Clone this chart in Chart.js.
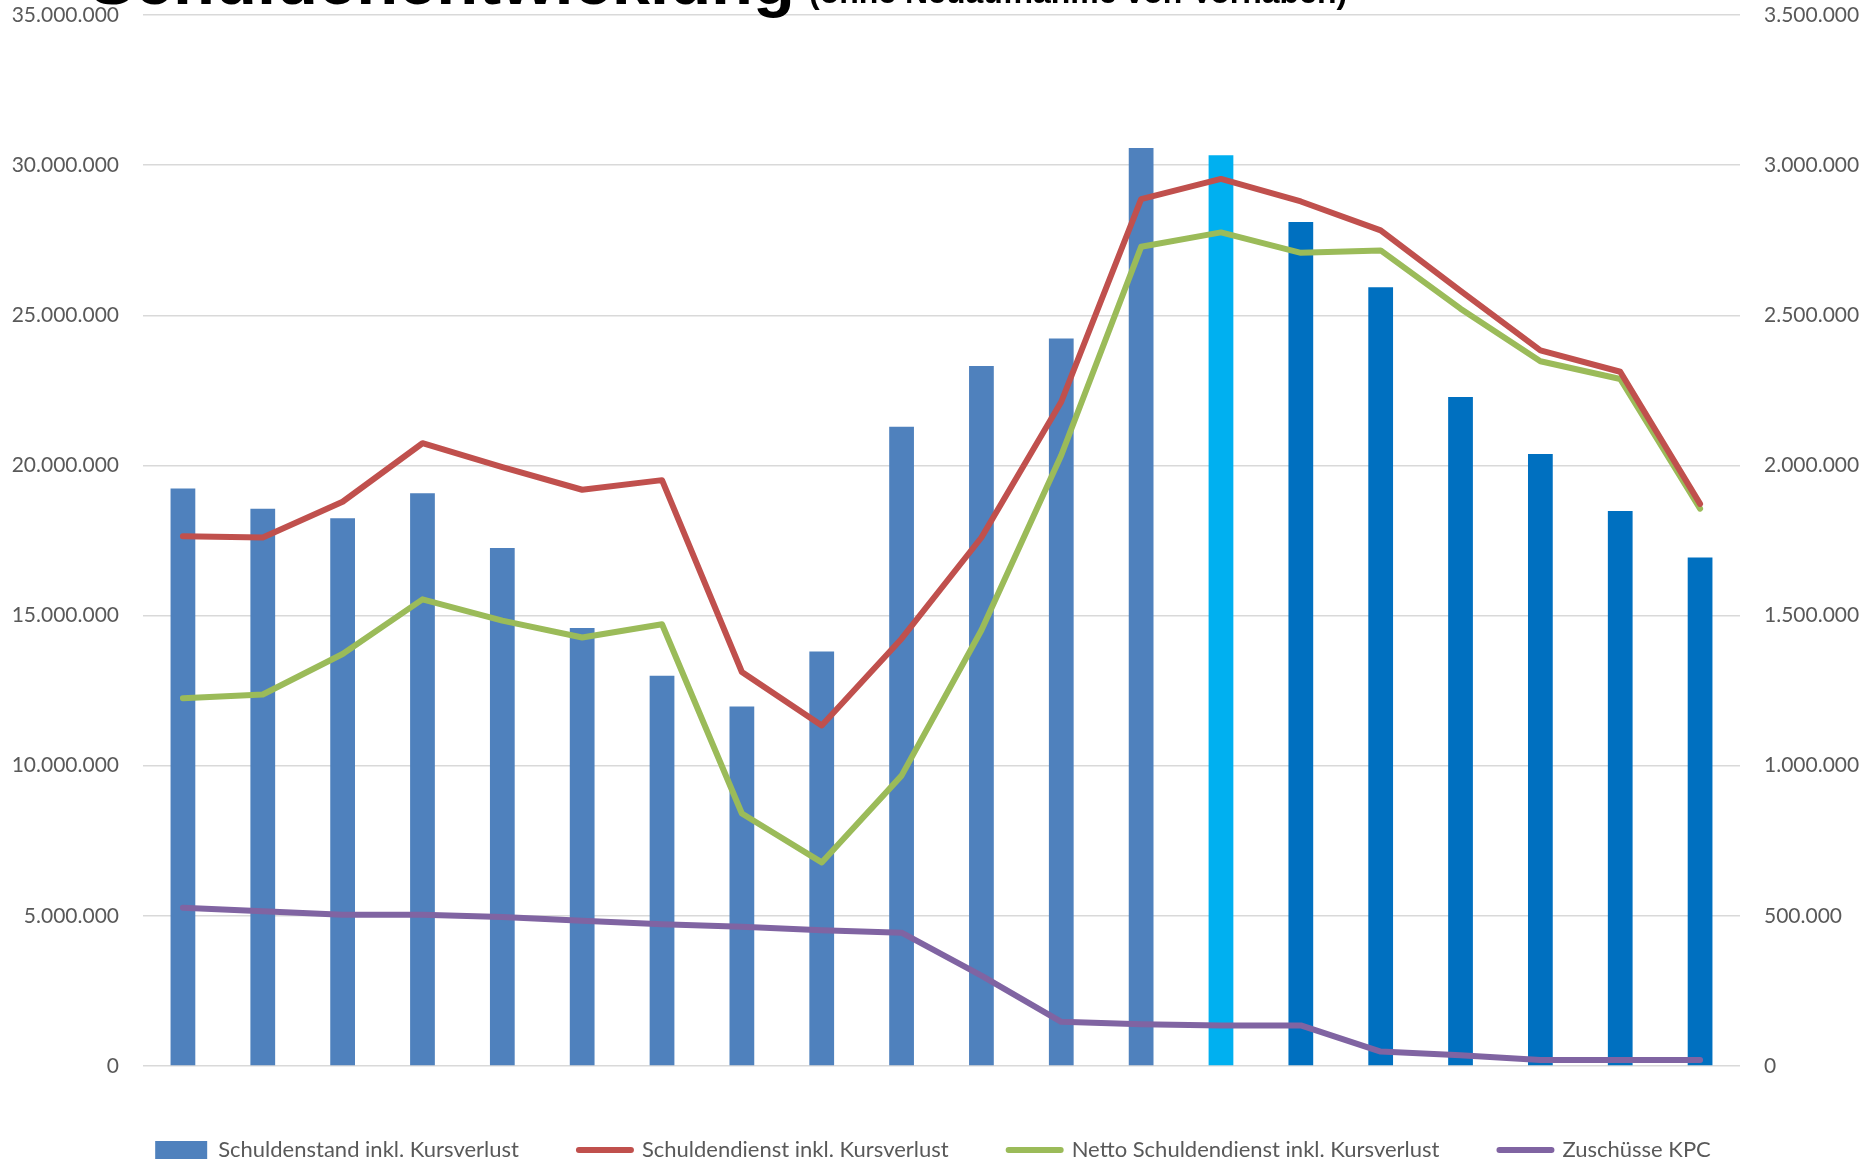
<!DOCTYPE html>
<html lang="de">
<head>
<meta charset="utf-8">
<title>Schuldenentwicklung</title>
<script src="https://cdn.jsdelivr.net/npm/chart.js@4.4.1/dist/chart.umd.min.js"></script>
<style>
  html, body { margin: 0; padding: 0; background: #fff; overflow: hidden; }
  #wrap { position: relative; width: 1866px; height: 1171px; }
  .title {
    position: absolute;
    font-family: 'Liberation Sans', Arial, sans-serif;
    font-weight: bold;
    color: #000;
    white-space: nowrap;
    line-height: 1;
    z-index: 2;
  }
  #mainTitle { left: 89px; top: -53px; font-size: 68.7px; }
  #subTitle { left: 809px; top: -24px; font-size: 32px; }
</style>
</head>
<body>
<div id="wrap">
  <div id="mainTitle" class="title">Schuldenentwicklung</div>
  <div id="subTitle" class="title">(ohne Neuaufnahme von Vorhaben)</div>
  <canvas id="chart"></canvas>
</div>
<script>
const years = ['2012', '2013', '2014', '2015', '2016', '2017', '2018', '2019', '2020', '2021',
               '2022', '2023', '2024', '2025', '2026', '2027', '2028', '2029', '2030', '2031'];

// left axis
const schuldenstand = [19230000, 18560000, 18240000, 19070000, 17250000, 14590000, 13000000, 11970000, 13800000, 21290000,
                       23310000, 24230000, 30570000, 30330000, 28110000, 25930000, 22280000, 20380000, 18480000, 16930000];

// right axis
const schuldendienst = [1764000, 1760000, 1879000, 2074000, 1994000, 1919000, 1951000, 1312000, 1134000, 1423000,
                        1760000, 2212000, 2887000, 2954000, 2879000, 2783000, 2581000, 2383000, 2312000, 1872000];
const nettoSchuldendienst = [1225000, 1237000, 1372000, 1554000, 1483000, 1427000, 1471000, 841000, 678000, 967000,
                             1451000, 2034000, 2728000, 2776000, 2708000, 2716000, 2522000, 2347000, 2288000, 1856000];
const zuschuesseKPC = [527000, 515000, 504000, 504000, 496000, 484000, 472000, 464000, 452000, 444000,
                       301000, 147000, 139000, 135000, 135000, 48000, 36000, 20000, 20000, 20000];

const seriesLabels = ['Schuldenstand inkl. Kursverlust', 'Schuldendienst inkl. Kursverlust',
                      'Netto Schuldendienst inkl. Kursverlust', 'Zuschüsse KPC'];

const tickColor = '#595959';
const gridColor = '#d9d9d9';

function formatDE(v) {
  return String(Math.round(v)).replace(/\B(?=(\d{3})+(?!\d))/g, '.');
}

function barColor(ctx) {
  const year = Number(years[ctx.dataIndex]);
  if (year === 2025) return '#00B0F0';
  if (year > 2025) return '#0070C0';
  return '#4F81BD';
}

function lineDataset(label, data, color) {
  return {
    type: 'line',
    label: label,
    data: data,
    yAxisID: 'y1',
    borderColor: color,
    backgroundColor: color,
    borderWidth: 6,
    pointRadius: 0,
    tension: 0,
    borderJoinStyle: 'round',
    borderCapStyle: 'round',
    order: 0
  };
}

// vertical axes: no extra room for half tick labels, chart area starts at layout padding
function fixVertical(width) {
  return scale => {
    scale.width = width;
    scale.paddingTop = 0;
    scale.paddingBottom = 0;
  };
}

new Chart(document.getElementById('chart'), {
  data: {
    labels: years,
    datasets: [
      {
        type: 'bar',
        label: seriesLabels[0],
        data: schuldenstand,
        yAxisID: 'y',
        backgroundColor: barColor,
        borderWidth: 0,
        barPercentage: 0.31,
        categoryPercentage: 1,
        order: 1
      },
      lineDataset(seriesLabels[1], schuldendienst, '#C0504D'),
      lineDataset(seriesLabels[2], nettoSchuldendienst, '#9BBB59'),
      lineDataset(seriesLabels[3], zuschuesseKPC, '#8064A2')
    ]
  },
  options: {
    responsive: true,
    maintainAspectRatio: false,
    animation: false,
    layout: { padding: { top: 15, left: 0, right: 0, bottom: 0 } },
    plugins: {
      tooltip: { enabled: false },
      legend: {
        position: 'bottom',
        labels: {
          color: tickColor,
          font: { family: 'Lato', size: 22 },
          padding: 60,
          usePointStyle: true,
          pointStyleWidth: 52,
          boxHeight: 18,
          sort: (a, b) => a.datasetIndex - b.datasetIndex,
          generateLabels(chart) {
            const items = Chart.defaults.plugins.legend.labels.generateLabels(chart);
            items.forEach(item => {
              const ds = chart.data.datasets[item.datasetIndex];
              if (ds.type === 'bar') {
                item.pointStyle = 'rect';
                item.fillStyle = '#4F81BD';
                item.lineWidth = 0;
                item.strokeStyle = 'rgba(0,0,0,0)';
              } else {
                item.pointStyle = 'line';
                item.lineWidth = 6;
                item.lineCap = 'round';
                item.strokeStyle = ds.borderColor;
              }
            });
            return items;
          }
        }
      }
    },
    scales: {
      x: {
        grid: { display: false },
        border: { display: false },
        ticks: { color: tickColor, font: { family: 'Lato', size: 21 }, padding: 18, maxRotation: 0 },
        afterFit(scale) { scale.height = 13; }
      },
      y: {
        position: 'left',
        min: 0,
        max: 35000000,
        grid: { color: gridColor, lineWidth: 1.5, drawTicks: false },
        border: { display: false },
        ticks: {
          stepSize: 5000000,
          color: tickColor,
          font: { family: 'Lato', size: 21 },
          padding: 24,
          callback: v => formatDE(v)
        },
        afterFit: fixVertical(143)
      },
      y1: {
        position: 'right',
        min: 0,
        max: 3500000,
        grid: { display: false, drawTicks: false },
        border: { display: false },
        ticks: {
          stepSize: 500000,
          color: tickColor,
          font: { family: 'Lato', size: 21 },
          padding: 24,
          callback: v => formatDE(v)
        },
        afterFit: fixVertical(126)
      }
    }
  }
});
</script>
</body>
</html>
